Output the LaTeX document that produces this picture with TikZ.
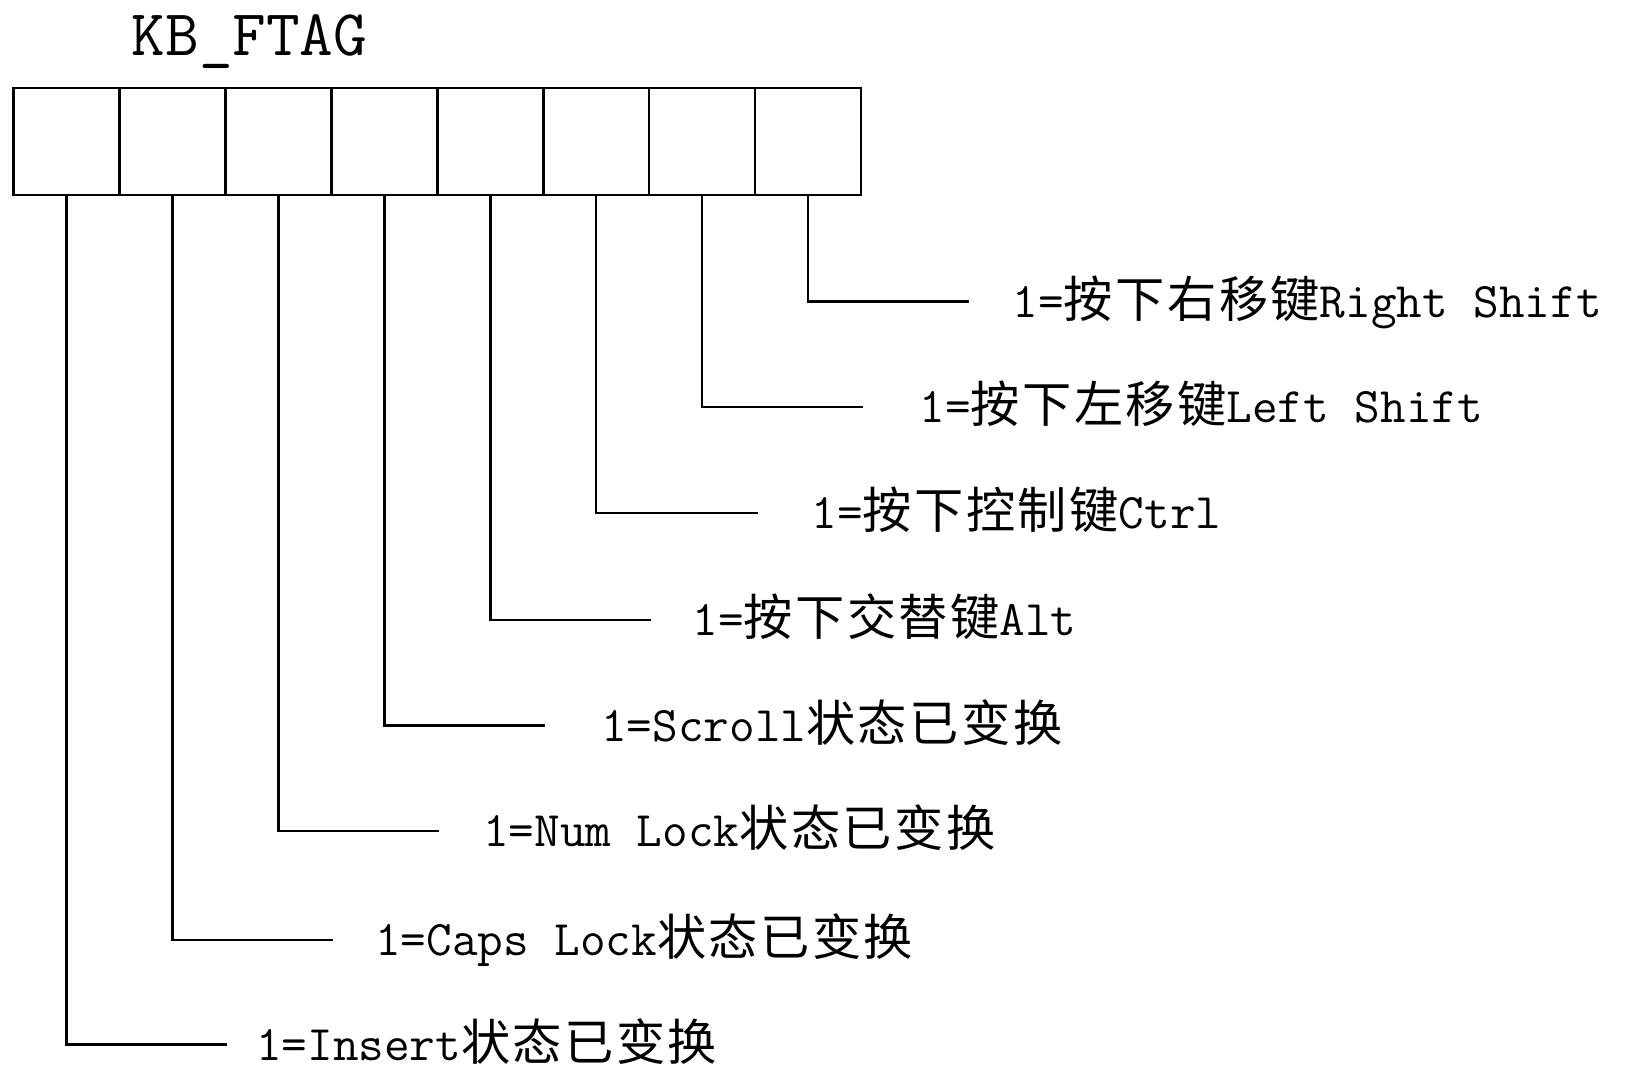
\documentclass[tikz,border=0pt]{standalone}
\usepackage{fontspec}
\newfontfamily\cjk[LetterSpace=5]{Noto Sans CJK SC}
\newcommand\zh[1]{{\cjk\fontsize{47.5}{58}\selectfont #1}}
\begin{document}
\begin{tikzpicture}[x=1pt,y=-1pt,
  cell/.style={draw,line width=2.3pt,minimum width=102.25pt,minimum height=103pt,inner sep=0pt,outer sep=0pt,anchor=north west},
  conn/.style={line width=2.3pt},
  lbl/.style={anchor=base west,inner sep=0pt,font=\fontsize{48}{58}\selectfont\ttfamily}]
\useasboundingbox (0,0) rectangle (1568,1031);
\node[anchor=base west,inner sep=0pt,font=\fontsize{63}{70}\selectfont\ttfamily] (title) at (127,54) {KB\_FTAG};
\node[cell] (c0) at (13,85) {};
\node[cell] (c1) at (c0.north east) {};
\node[cell] (c2) at (c1.north east) {};
\node[cell] (c3) at (c2.north east) {};
\node[cell] (c4) at (c3.north east) {};
\node[cell] (c5) at (c4.north east) {};
\node[cell] (c6) at (c5.north east) {};
\node[cell] (c7) at (c6.north east) {};
\node[lbl] (l7) at (977,306) {1=\zh{按下右移键}Right Shift};
\node[lbl] (l6) at (887,408) {1=\zh{按下左移键}Left Shift};
\node[lbl] (l5) at (783,510) {1=\zh{按下控制键}Ctrl};
\node[lbl] (l4) at (668,613) {1=\zh{按下交替键}Alt};
\node[lbl] (l3) at (580,715) {1=Scroll\zh{状态已变换}};
\node[lbl] (l2) at (466,817) {1=Num Lock\zh{状态已变换}};
\node[lbl] (l1) at (362,922) {1=Caps Lock\zh{状态已变换}};
\node[lbl] (l0) at (247,1023) {1=Insert\zh{状态已变换}};
\coordinate (e7) at (935,291);
\coordinate (e6) at (833,393);
\coordinate (e5) at (731,495);
\coordinate (e4) at (628,598);
\coordinate (e3) at (526,700);
\coordinate (e2) at (424,802);
\coordinate (e1) at (321,907);
\coordinate (e0) at (219,1008);
\foreach \i in {0,...,7} {\draw[conn] (c\i.south) |- (e\i);}
\end{tikzpicture}
\end{document}
